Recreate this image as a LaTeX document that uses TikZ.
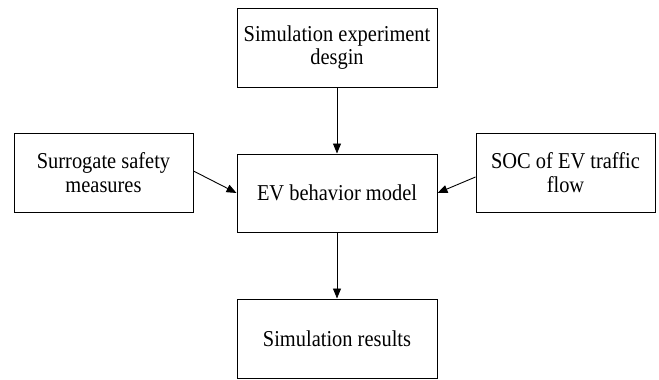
\documentclass[tikz,border=0pt]{standalone}
\usepackage{fontspec}
\setmainfont[FakeStretch=0.9]{Liberation Serif}
\usetikzlibrary{arrows.meta}
\begin{document}
\begin{tikzpicture}[x=1pt,y=-1pt,
  box/.style={draw, line width=1pt, minimum width=#1, minimum height=79pt,
    inner sep=0pt, align=center, font=\fontsize{22.7}{23.7}\selectfont},
  arr/.style={-{Triangle[length=10pt,width=8pt]}, line width=0.9pt}]
\useasboundingbox (0,0) rectangle (659,380);
\node[box=200pt] (T) at (337,47.5) {Simulation experiment\\desgin};
\node[box=200pt, minimum height=78pt] (C) at (337,193) {EV behavior model};
\node[box=200pt] (B) at (337,338.5) {Simulation results};
\node[box=179pt] (L) at (103.5,172.5) {Surrogate safety\\measures};
\node[box=179pt] (R) at (565.5,172.5) {SOC of EV traffic\\flow};
\draw[arr] (T) -- (C);
\draw[arr] (C) -- (B);
\draw[arr] ([yshift=1.5pt]L.east) -- (C.west);
\draw[arr] ([yshift=-4.5pt]R.west) -- (C.east);
\end{tikzpicture}
\end{document}
